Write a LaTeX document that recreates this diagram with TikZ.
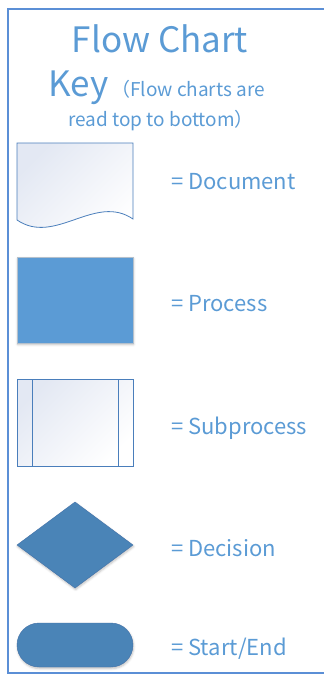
\documentclass[tikz,border=0pt]{standalone}
\usepackage{fontspec}
\setmainfont{Noto Sans CJK JP}
\usetikzlibrary{shadows.blur}
\definecolor{keyblue}{HTML}{5B9BD5}
\definecolor{frameblue}{HTML}{5B8FD6}
\definecolor{edgeblue}{HTML}{4A7EBB}
\definecolor{darkfill}{HTML}{4A84B7}
\definecolor{paleshade}{HTML}{E3E8F3}
\definecolor{procedge}{HTML}{B4C0CC}
\tikzset{
  keytext/.style={text=keyblue, inner sep=0pt, anchor=base west, font=\fontsize{22}{24}\selectfont},
  % light tint in the upper left corner fading to white
  paleshape/.style={draw=edgeblue, line width=0.8pt, top color=paleshade, bottom color=white, shading angle=45},
  solidshadow/.style={blur shadow={shadow xshift=0.6pt, shadow yshift=-1.6pt, shadow blur steps=4, shadow opacity=25}},
}
\begin{document}
\begin{tikzpicture}[x=1pt, y=-1pt]
\useasboundingbox (0,0) rectangle (324,675);
% outer frame (right side runs off the page)
\draw[frameblue, line width=2pt] (340,9) -- (7.5,9) -- (7.5,673) -- (340,673);

% heading
\node[text=keyblue, inner sep=0pt, anchor=base, font=\fontsize{35}{38}\selectfont] (title) at (160,52) {Flow Chart};
\node[text=keyblue, inner sep=0pt, anchor=base west, font=\fontsize{35}{38}\selectfont] (keyword) at (48,96) {Key};
\node[text=keyblue, inner sep=0pt, anchor=base west, font=\fontsize{19}{21}\selectfont] (note1) at (111,96) {（Flow charts are};
\node[text=keyblue, inner sep=0pt, anchor=base, font=\fontsize{19}{21}\selectfont] (note2) at (161,126) {read top to bottom）};

% document symbol
\path[paleshape] (17,143) -- (133,143) -- (133,219)
  .. controls (95,193) and (55,246) .. (17,220) -- cycle;

% process symbol
\node[draw=procedge, fill=keyblue, line width=0.8pt, minimum width=116pt, minimum height=86pt, inner sep=0pt, solidshadow] (process) at (75,300) {};

% subprocess symbol
\path[paleshape] (17,379) rectangle (133,466);
\draw[edgeblue, line width=0.8pt] (32,379) -- (32,466) (118,379) -- (118,466);

% decision symbol
\path[fill=darkfill, draw=edgeblue!90!black, line width=0.4pt, solidshadow] (75,502) -- (133,545) -- (75,588) -- (17,545) -- cycle;

% start/end symbol
\path[fill=darkfill, draw=edgeblue!90!black, line width=0.4pt, solidshadow, rounded corners=22pt] (17,623) rectangle (133,667);

% labels
\node[keytext] (ldoc) at (171,189) {= Document};
\node[keytext] (lproc) at (171,311.5) {= Process};
\node[keytext] (lsub) at (171,434) {= Subprocess};
\node[keytext] (ldec) at (171,556) {= Decision};
\node[keytext] (lend) at (171,655) {= Start/End};
\end{tikzpicture}
\end{document}
